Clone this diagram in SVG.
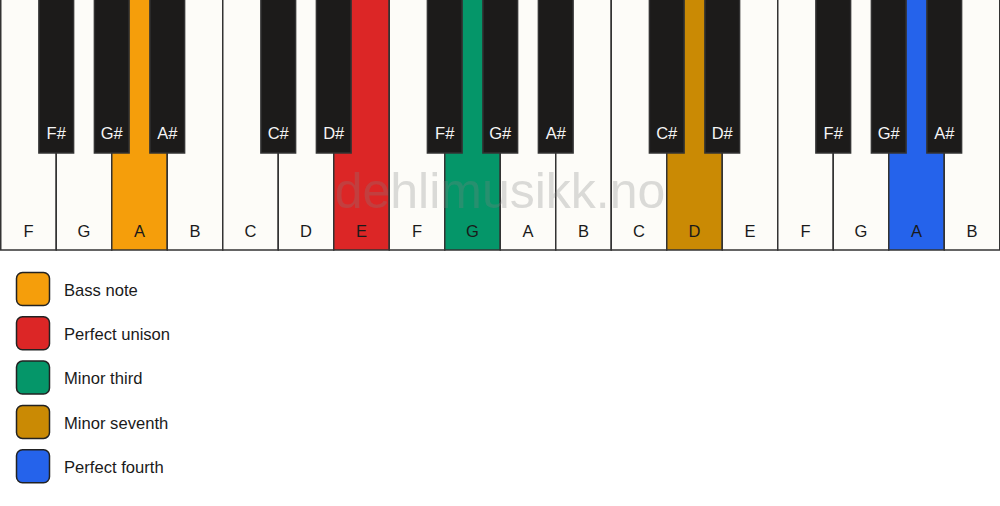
<svg xmlns="http://www.w3.org/2000/svg" width="1000" height="506" viewBox="0 0 1000 506">
<style>
.w{fill:#fdfcf8;stroke:#333;stroke-width:1.5}
.b{fill:#1c1b1a;stroke:#333;stroke-width:1.5}
.wl{font-family:"Liberation Sans",Arial,sans-serif;font-size:16.5px;fill:#1a1a1a;text-anchor:middle}
.bl{font-family:"Liberation Sans",Arial,sans-serif;font-size:16.5px;fill:#f5f5f5;text-anchor:middle}
.lg{stroke:#222;stroke-width:1.5}
.lt{font-family:"Liberation Sans",Arial,sans-serif;font-size:16.6px;fill:#1a1a1a}
.wm{font-family:"Liberation Sans",Arial,sans-serif;font-size:50px;fill:#808080;fill-opacity:0.28;text-anchor:middle}
</style>
<rect width="1000" height="506" fill="#ffffff"/>
<g id="white-keys">
<g id="wk0"><rect class="w" x="0.75" y="-1" width="55.5" height="251"/><text class="wl" x="28.5" y="236.5">F</text></g>
<g id="wk1"><rect class="w" x="56.25" y="-1" width="55.5" height="251"/><text class="wl" x="84" y="236.5">G</text></g>
<g id="wk2"><rect class="w" x="111.75" y="-1" width="55.5" height="251" style="fill:#F59E0B"/><text class="wl" x="139.5" y="236.5">A</text></g>
<g id="wk3"><rect class="w" x="167.25" y="-1" width="55.5" height="251"/><text class="wl" x="195" y="236.5">B</text></g>
<g id="wk4"><rect class="w" x="222.75" y="-1" width="55.5" height="251"/><text class="wl" x="250.5" y="236.5">C</text></g>
<g id="wk5"><rect class="w" x="278.25" y="-1" width="55.5" height="251"/><text class="wl" x="306" y="236.5">D</text></g>
<g id="wk6"><rect class="w" x="333.75" y="-1" width="55.5" height="251" style="fill:#DC2626"/><text class="wl" x="361.5" y="236.5">E</text></g>
<g id="wk7"><rect class="w" x="389.25" y="-1" width="55.5" height="251"/><text class="wl" x="417" y="236.5">F</text></g>
<g id="wk8"><rect class="w" x="444.75" y="-1" width="55.5" height="251" style="fill:#059669"/><text class="wl" x="472.5" y="236.5">G</text></g>
<g id="wk9"><rect class="w" x="500.25" y="-1" width="55.5" height="251"/><text class="wl" x="528" y="236.5">A</text></g>
<g id="wk10"><rect class="w" x="555.75" y="-1" width="55.5" height="251"/><text class="wl" x="583.5" y="236.5">B</text></g>
<g id="wk11"><rect class="w" x="611.25" y="-1" width="55.5" height="251"/><text class="wl" x="639" y="236.5">C</text></g>
<g id="wk12"><rect class="w" x="666.75" y="-1" width="55.5" height="251" style="fill:#CA8A04"/><text class="wl" x="694.5" y="236.5">D</text></g>
<g id="wk13"><rect class="w" x="722.25" y="-1" width="55.5" height="251"/><text class="wl" x="750" y="236.5">E</text></g>
<g id="wk14"><rect class="w" x="777.75" y="-1" width="55.5" height="251"/><text class="wl" x="805.5" y="236.5">F</text></g>
<g id="wk15"><rect class="w" x="833.25" y="-1" width="55.5" height="251"/><text class="wl" x="861" y="236.5">G</text></g>
<g id="wk16"><rect class="w" x="888.75" y="-1" width="55.5" height="251" style="fill:#2563EB"/><text class="wl" x="916.5" y="236.5">A</text></g>
<g id="wk17"><rect class="w" x="944.25" y="-1" width="55.5" height="251"/><text class="wl" x="972" y="236.5">B</text></g>
</g>
<g id="black-keys">
<g id="bk0"><rect class="b" x="38.9" y="-1" width="34.7" height="154"/><text class="bl" x="56.25" y="139">F#</text></g>
<g id="bk1"><rect class="b" x="94.4" y="-1" width="34.7" height="154"/><text class="bl" x="111.75" y="139">G#</text></g>
<g id="bk2"><rect class="b" x="149.9" y="-1" width="34.7" height="154"/><text class="bl" x="167.25" y="139">A#</text></g>
<g id="bk3"><rect class="b" x="260.9" y="-1" width="34.7" height="154"/><text class="bl" x="278.25" y="139">C#</text></g>
<g id="bk4"><rect class="b" x="316.4" y="-1" width="34.7" height="154"/><text class="bl" x="333.75" y="139">D#</text></g>
<g id="bk5"><rect class="b" x="427.4" y="-1" width="34.7" height="154"/><text class="bl" x="444.75" y="139">F#</text></g>
<g id="bk6"><rect class="b" x="482.9" y="-1" width="34.7" height="154"/><text class="bl" x="500.25" y="139">G#</text></g>
<g id="bk7"><rect class="b" x="538.4" y="-1" width="34.7" height="154"/><text class="bl" x="555.75" y="139">A#</text></g>
<g id="bk8"><rect class="b" x="649.4" y="-1" width="34.7" height="154"/><text class="bl" x="666.75" y="139">C#</text></g>
<g id="bk9"><rect class="b" x="704.9" y="-1" width="34.7" height="154"/><text class="bl" x="722.25" y="139">D#</text></g>
<g id="bk10"><rect class="b" x="815.9" y="-1" width="34.7" height="154"/><text class="bl" x="833.25" y="139">F#</text></g>
<g id="bk11"><rect class="b" x="871.4" y="-1" width="34.7" height="154"/><text class="bl" x="888.75" y="139">G#</text></g>
<g id="bk12"><rect class="b" x="926.9" y="-1" width="34.7" height="154"/><text class="bl" x="944.25" y="139">A#</text></g>
</g>
<text id="watermark" class="wm" x="500" y="208">dehlimusikk.no</text>
<g id="legend">
<g id="lg0"><rect class="lg" x="16.5" y="272.5" width="33" height="33" rx="6" fill="#F59E0B"/><text class="lt" x="64" y="295.7">Bass note</text></g>
<g id="lg1"><rect class="lg" x="16.5" y="316.8" width="33" height="33" rx="6" fill="#DC2626"/><text class="lt" x="64" y="340">Perfect unison</text></g>
<g id="lg2"><rect class="lg" x="16.5" y="361.1" width="33" height="33" rx="6" fill="#059669"/><text class="lt" x="64" y="384.3">Minor third</text></g>
<g id="lg3"><rect class="lg" x="16.5" y="405.4" width="33" height="33" rx="6" fill="#CA8A04"/><text class="lt" x="64" y="428.6">Minor seventh</text></g>
<g id="lg4"><rect class="lg" x="16.5" y="449.7" width="33" height="33" rx="6" fill="#2563EB"/><text class="lt" x="64" y="472.9">Perfect fourth</text></g>
</g>
<g id="connectors"/>
</svg>
